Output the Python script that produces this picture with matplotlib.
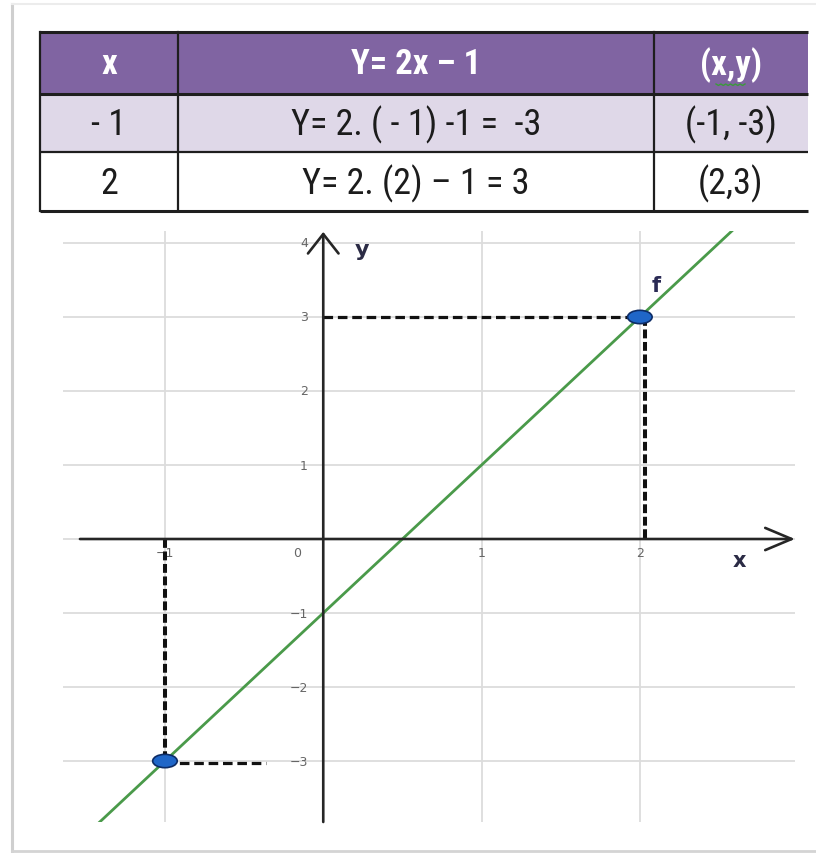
import matplotlib
matplotlib.use("Agg")
import matplotlib.pyplot as plt
from matplotlib.patches import Rectangle, Ellipse
import numpy as np

# table contents
header = ["x", "Y= 2x \u2013 1", "(x,y)"]
x_cells = ["- 1", "2"]
formula_cells = ["Y= 2. ( - 1) -1 =  -3", "Y= 2. (2) \u2013 1 = 3"]
pair_cells = ["(-1, -3)", "(2,3)"]

# line y = slope * x + intercept and the two worked points
slope = 2
intercept = -1
x_pts = [-1, 2]
y_pts = [-3, 3]

x_ticks = [-1, 0, 1, 2]
y_ticks = [-3, -2, -1, 1, 2, 3, 4]

narrow = ["Roboto Condensed", "Liberation Sans Narrow", "Lato", "DejaVu Sans"]

fig = plt.figure(figsize=(8.16, 8.54), dpi=100)

# pixel-space background axes for the frame and the table
bg = fig.add_axes([0, 0, 1, 1])
bg.set_xlim(0, 816)
bg.set_ylim(854, 0)
bg.axis("off")

# light page frame
bg.plot([12, 12], [5, 852], color="#cfcfcf", lw=2.2)
bg.plot([12, 816], [5, 5], color="#ececec", lw=1.5)
bg.plot([12, 816], [852, 852], color="#d4d4d4", lw=2.0)

# ---- table ----
col_edges = [40, 178, 654, 808]
row_edges = [33, 95, 153, 212]
row_fill = ["#8064a2", "#dfd8e8", "#ffffff"]
rows = [header] + [list(r) for r in zip(x_cells, formula_cells, pair_cells)]

for i, row in enumerate(rows):
    y0, y1 = row_edges[i], row_edges[i + 1]
    bg.add_patch(Rectangle((col_edges[0], y0), col_edges[-1] - col_edges[0], y1 - y0,
                           facecolor=row_fill[i], edgecolor="none", zorder=1))
    for j, txt in enumerate(row):
        cx = (col_edges[j] + col_edges[j + 1]) / 2
        bg.text(cx, (y0 + y1) / 2 + 1, txt, ha="center", va="center",
                fontsize=25 if i == 0 else 26, family=narrow, fontstretch="condensed",
                color="white" if i == 0 else "#1c1c1c",
                fontweight="bold" if i == 0 else "normal", zorder=3)

for k, y in enumerate(row_edges):
    bg.plot([col_edges[0], col_edges[-1]], [y, y], color="#1e1e1e",
            lw=2.2 if k != 2 else 1.6, zorder=2, solid_capstyle="butt")
for x in col_edges[:-1]:
    bg.plot([x, x], [row_edges[0], row_edges[-1]], color="#1e1e1e", lw=1.6, zorder=2)

# spell-check squiggle under (x,y)
sq_x = np.linspace(716, 745, 13)
sq_y = 85 + 1.5 * (np.arange(13) % 2)
bg.plot(sq_x, sq_y, color="#3c9a3c", lw=1.0, zorder=3)

# ---- graph ----
ax = fig.add_axes([63 / 816, 1 - 823 / 854, (795 - 63) / 816, (823 - 232) / 854])
ax.patch.set_alpha(0)
ax.set_xlim(-1.644, 2.98)
ax.set_ylim(-3.824, 4.162)
ax.axis("off")

grid_c = "#dcdcdc"
for xv in x_ticks:
    if xv != 0:
        ax.axvline(xv, color=grid_c, lw=1.3, zorder=1)
for yv in y_ticks + [0]:
    ax.axhline(yv, color=grid_c, lw=1.3, zorder=1)

# axes with open arrow heads
ax.annotate("", xy=(2.98, 0), xytext=(-1.537, 0), annotation_clip=False,
            arrowprops=dict(arrowstyle="->,head_length=1.9,head_width=0.8",
                            lw=1.9, color="#262626", shrinkA=0, shrinkB=0), zorder=4)
ax.annotate("", xy=(0, 4.15), xytext=(0, -3.824), annotation_clip=False,
            arrowprops=dict(arrowstyle="->,head_length=1.4,head_width=1.1",
                            lw=1.9, color="#262626", shrinkA=0, shrinkB=0), zorder=4)

# tick labels
tick_c = "#666666"
for xv in x_ticks:
    dx = -19 if xv == 0 else 0
    lbl = "\u22121" if xv < 0 else str(xv)
    ax.annotate(lbl, (xv, 0), xytext=(dx, -10), textcoords="offset points",
                ha="center", va="center", fontsize=9, color=tick_c, zorder=3)
for yv in y_ticks:
    lbl = "\u2212" + str(-yv) if yv < 0 else str(yv)
    ax.annotate(lbl, (0, yv), xytext=(-11, 0), textcoords="offset points",
                ha="right", va="center", fontsize=9, color=tick_c, zorder=3)

ax.annotate("y", (0, 4.162), xytext=(28, -13), textcoords="offset points",
            ha="center", va="center", fontsize=16, fontweight="bold", color="#2b2b45")
ax.annotate("x", (2.98, 0), xytext=(-40, -15), textcoords="offset points",
            ha="center", va="center", fontsize=15, fontweight="bold", color="#2b2b45")

# the function line
xs = np.array([-1.644, 2.98])
ax.plot(xs, slope * xs + intercept, color="#4a9a4a", lw=2.0, zorder=3)
ax.annotate("f", (x_pts[1], y_pts[1]), xytext=(12, 23), textcoords="offset points",
            ha="center", va="center", fontsize=15, fontweight="bold", color="#2b2b55")

# dashed guides to the axes
dash_h = (0, (3.0, 1.5))
dash_v = (0, (2.2, 0.9))
ax.plot([0, x_pts[1]], [y_pts[1], y_pts[1]], color="#111111", lw=2.3, ls=dash_h, zorder=3)
ax.plot([x_pts[1] + 0.03, x_pts[1] + 0.03], [y_pts[1], 0], color="#111111", lw=2.9, ls=dash_v, zorder=3)
ax.plot([x_pts[0], x_pts[0]], [0, y_pts[0]], color="#111111", lw=2.9, ls=dash_v, zorder=3)
ax.plot([x_pts[0], -0.36], [y_pts[0] - 0.03, y_pts[0] - 0.03], color="#111111", lw=2.3, ls=dash_h, zorder=3)

for xp, yp in zip(x_pts, y_pts):
    ax.add_patch(Ellipse((xp, yp), 0.155, 0.18, facecolor="#1f66c8",
                         edgecolor="#0d2c66", lw=1.2, zorder=5))

fig.savefig("out.png", dpi=100)
